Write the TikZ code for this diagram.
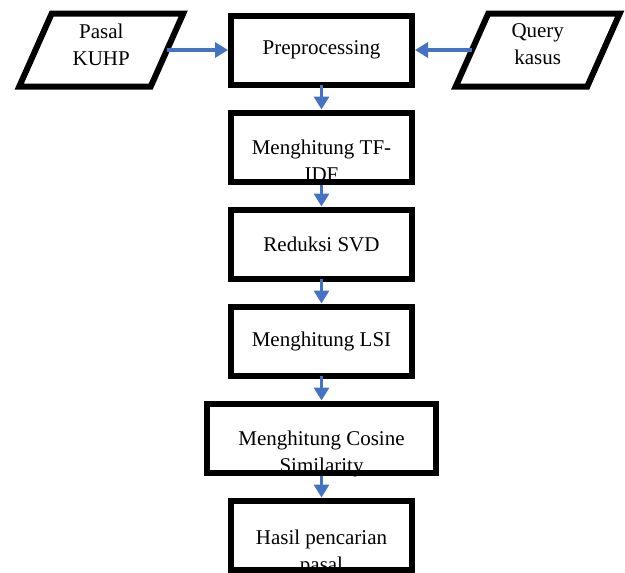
\documentclass[tikz,border=0pt]{standalone}
\usepackage{fontspec}
\setmainfont{Liberation Serif}
\usetikzlibrary{arrows.meta,positioning,shapes.geometric}
\definecolor{flowblue}{HTML}{4472C4}
\tikzset{
  stepbox/.style={draw=black, line width=6pt, minimum width=181pt, minimum height=69pt, outer sep=0pt, inner sep=0pt, align=center},
  iobox/.style={trapezium, trapezium left angle=66, trapezium right angle=114, trapezium stretches body=true, draw=black, line width=6pt, minimum width=164pt, inner xsep=0pt, inner ysep=9.5pt, outer sep=0pt},
  arrow/.style={-{Triangle[width=15pt,length=13pt]}, line width=3.5pt, draw=flowblue, shorten >=3pt}
}
\newcommand{\lowtxt}[2]{\raisebox{#1}[\height][\depth]{\begin{tabular}{@{}c@{}}#2\end{tabular}}}

\begin{document}
\begin{tikzpicture}[x=1pt, y=-1pt, node distance=28pt, font=\fontsize{21}{27}\selectfont]
  \useasboundingbox (0,0) rectangle (625,573);
  \node[stepbox] (prep) at (321.5,50) {Preprocessing};
  \node[stepbox, below=of prep] (tfidf) {\lowtxt{-16pt}{Menghitung TF-\\IDF}};
  \node[stepbox, below=of tfidf] (svd) {Reduksi SVD};
  \node[stepbox, below=of svd] (lsi) {Menghitung LSI};
  \node[stepbox, below=of lsi, minimum width=229pt] (cosine) {\lowtxt{-16pt}{Menghitung Cosine\\Similarity}};
  \node[stepbox, below=of cosine] (hasil) {\lowtxt{-18pt}{Hasil pencarian\\pasal}};

  \node[iobox, left=64pt of prep] (pasal) {\lowtxt{3pt}{Pasal\\KUHP}};
  \node[iobox, right=60pt of prep] (query) {\lowtxt{4pt}{Query\\kasus}};

  \draw[arrow] (pasal.east) -- (prep.west);
  \draw[arrow] (query.west) -- (prep.east);
  \draw[arrow] (prep) -- (tfidf);
  \draw[arrow] (tfidf) -- (svd);
  \draw[arrow] (svd) -- (lsi);
  \draw[arrow] (lsi) -- (cosine);
  \draw[arrow] (cosine) -- (hasil);

  % frame again over the text that runs out of the box
  \foreach \n in {tfidf,cosine,hasil}
    \draw[line width=6pt] (\n.south west) rectangle (\n.north east);
\end{tikzpicture}
\end{document}
